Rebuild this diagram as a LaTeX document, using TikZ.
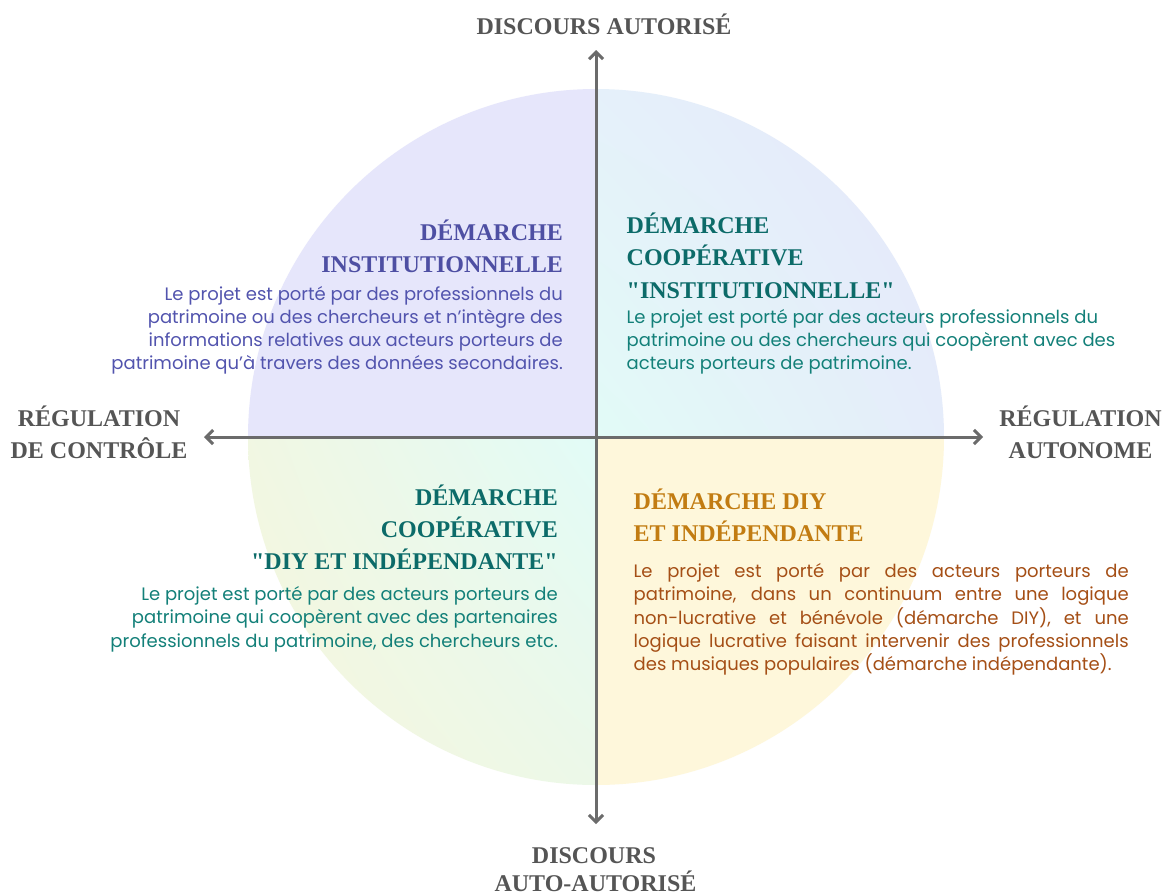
\documentclass[tikz,border=0pt]{standalone}
\usepackage{fontspec}
\setmainfont{Poppins}
\newfontfamily\headfont{Liberation Serif}
\usetikzlibrary{arrows.meta,shadings}
\definecolor{lav}{HTML}{E6E6FB}
\definecolor{cyanl}{HTML}{E2FBF7}
\definecolor{trul}{HTML}{E5F0FA}
\definecolor{trlr}{HTML}{E5ECFA}
\definecolor{yel}{HTML}{FEF7DB}
\definecolor{yelg}{HTML}{F8F6DB}
\definecolor{blul}{HTML}{F1F7E2}
\definecolor{bllr}{HTML}{ECF8E8}
\definecolor{purph}{HTML}{4E4FA3}
\definecolor{purpb}{HTML}{5254AE}
\definecolor{tealh}{HTML}{0C6B69}
\definecolor{tealb}{HTML}{138079}
\definecolor{goldh}{HTML}{C27C12}
\definecolor{rustb}{HTML}{A54F16}
\definecolor{axgray}{HTML}{555555}
\definecolor{arrowgray}{HTML}{6B6B6B}
\begin{document}
\begin{tikzpicture}[x=1pt,y=-1pt,
  head/.style={font=\headfont\bfseries\fontsize{24}{24}\selectfont, inner sep=0pt},
  body/.style={font=\fontsize{18}{18}\selectfont, inner sep=0pt},
  axlabel/.style={head, text=axgray, anchor=base},
  axis/.style={draw=arrowgray, line width=3pt, arrows={Straight Barb[length=7pt,width=14pt]-Straight Barb[length=7pt,width=14pt]}},
  hTL/.style={head, text=purph, anchor=base east},
  bTL/.style={body, text=purpb, anchor=base east},
  hTR/.style={head, text=tealh, anchor=base west},
  bTR/.style={body, text=tealb, anchor=base west},
  hBL/.style={head, text=tealh, anchor=base east},
  bBL/.style={body, text=tealb, anchor=base east},
  hBR/.style={head, text=goldh, anchor=base west},
  bBR/.style={body, text=rustb, anchor=base west}]
\useasboundingbox (0,0) rectangle (1165,895);
\fill[white] (0,0) rectangle (1165,895);
% circle quadrants
\begin{scope}
  \clip (596,437) circle [radius=348pt];
  \fill[lav] (240,80) rectangle (596,437);
  \shade[upper left=trul, upper right=lav, lower left=cyanl, lower right=trlr] (596,80) rectangle (950,437);
  \shade[upper left=blul, upper right=cyanl, lower left=yelg, lower right=bllr] (240,437) rectangle (596,795);
  \fill[yel] (596,437) rectangle (950,795);
\end{scope}
% axes
\coordinate (axT) at (596,50);
\coordinate (axB) at (596,824);
\coordinate (axL) at (204,437);
\coordinate (axR) at (983,437);
\draw[axis] (axL) -- (axR);
\draw[axis] (axB) -- (axT);
% axis labels
\node[axlabel] (top) at (604,34) {DISCOURS AUTORISÉ};
\node[axlabel] (bot1) at (594,863) {DISCOURS};
\node[axlabel] (bot2) at (595.5,891) {AUTO-AUTORISÉ};
\node[axlabel] (lft1) at (99,426) {RÉGULATION};
\node[axlabel] (lft2) at (99,458) {DE CONTRÔLE};
\node[axlabel] (rgt1) at (1080.5,426) {RÉGULATION};
\node[axlabel] (rgt2) at (1080.5,458) {AUTONOME};
% top-left
\node[hTL] (tlh1) at (563,240) {DÉMARCHE};
\node[hTL] (tlh2) at (563,272) {INSTITUTIONNELLE};
\node[bTL] (tlb1) at (563,300.5) {Le projet est porté par des professionnels du};
\node[bTL] (tlb2) at (563,323.5) {patrimoine ou des chercheurs et n'intègre des};
\node[bTL] (tlb3) at (563,346.5) {informations relatives aux acteurs porteurs de};
\node[bTL] (tlb4) at (563,369.5) {patrimoine qu'à travers des données secondaires.};
% top-right
\node[hTR] (trh1) at (626.5,233) {DÉMARCHE};
\node[hTR] (trh2) at (626.5,265.5) {COOPÉRATIVE};
\node[hTR] (trh3) at (626.5,298) {"INSTITUTIONNELLE"};
\node[bTR] (trb1) at (626.5,323.5) {Le projet est porté par des acteurs professionnels du};
\node[bTR] (trb2) at (626.5,346.5) {patrimoine ou des chercheurs qui coopèrent avec des};
\node[bTR] (trb3) at (626.5,369.5) {acteurs porteurs de patrimoine.};
% bottom-left
\node[hBL] (blh1) at (558,505) {DÉMARCHE};
\node[hBL] (blh2) at (558,537) {COOPÉRATIVE};
\node[hBL] (blh3) at (558,569) {"DIY ET INDÉPENDANTE"};
\node[bBL] (blb1) at (558,600) {Le projet est porté par des acteurs porteurs de};
\node[bBL] (blb2) at (558,623.5) {patrimoine qui coopèrent avec des partenaires};
\node[bBL] (blb3) at (558,647) {professionnels du patrimoine, des chercheurs etc.};
% bottom-right
\node[hBR] (brh1) at (633.5,509.5) {DÉMARCHE DIY};
\node[hBR] (brh2) at (633.5,541.5) {ET INDÉPENDANTE};
\node[bBR] (brb1) at (633.5,577) {\makebox[495pt][s]{Le projet est porté par des acteurs porteurs de}};
\node[bBR] (brb2) at (633.5,600.5) {\makebox[495pt][s]{patrimoine, dans un continuum entre une logique}};
\node[bBR] (brb3) at (633.5,624) {\makebox[495pt][s]{non-lucrative et bénévole (démarche DIY), et une}};
\node[bBR] (brb4) at (633.5,647) {\makebox[495pt][s]{logique lucrative faisant intervenir des professionnels}};
\node[bBR] (brb5) at (633.5,670) {des musiques populaires (démarche indépendante).};
\end{tikzpicture}
\end{document}
